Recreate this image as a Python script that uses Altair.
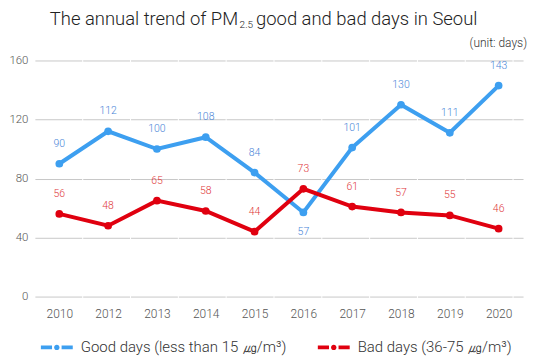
import altair as alt
import pandas as pd

years = ["2010", "2012", "2013", "2014", "2015", "2016", "2017", "2018", "2019", "2020"]
good = [90, 112, 100, 108, 84, 57, 101, 130, 111, 143]
bad = [56, 48, 65, 58, 44, 73, 61, 57, 55, 46]
series_names = ["Good days (less than 15 ㎍/m³)", "Bad days (36-75 ㎍/m³)"]
line_colors = ["#3d9ff0", "#e0000f"]
label_colors = ["#4a86d8", "#e0383a"]
title_parts = ["The annual trend of PM", "2.5", "good and bad days in Seoul"]
unit_label = "(unit: days)"

rows = []
for i, y in enumerate(years):
    rows.append({"year": y, "series": series_names[0], "days": good[i],
                 "below": good[i] < bad[i]})
    rows.append({"year": y, "series": series_names[1], "days": bad[i],
                 "below": False})
df = pd.DataFrame(rows)

FONT = "Roboto"
W, H = 490, 237

x = alt.X("year:N", sort=years, title=None,
          scale=alt.Scale(paddingInner=0, paddingOuter=0),
          axis=alt.Axis(labelAngle=0, ticks=False, domain=False, grid=False,
                        labelPadding=12, labelFontSize=12, labelColor="#555",
                        labelFont=FONT, labelFontWeight=300))
y = alt.Y("days:Q", title=None,
          scale=alt.Scale(domain=[0, 160], nice=False),
          axis=alt.Axis(values=[0, 40, 80, 120, 160], ticks=False, domain=False,
                        gridColor="#c8c8c8", gridWidth=1, labelPadding=7,
                        labelFontSize=11.5, labelColor="#555", labelFont=FONT,
                        labelFontWeight=300, gridDash=[47, 1]))

color_line = alt.Color("series:N", sort=series_names,
                       scale=alt.Scale(domain=series_names, range=line_colors),
                       legend=None)
color_pt = alt.Color("series:N", sort=series_names,
                     scale=alt.Scale(domain=series_names, range=line_colors),
                     legend=alt.Legend(
                         title=None, orient="none", direction="horizontal",
                         legendX=6, legendY=272, padding=0,
                         symbolType="M-1,-0.12H-0.3V0.12H-1Z M0.3,-0.12H1V0.12H0.3Z M-0.17,0A0.17,0.17,0,1,0,0.17,0A0.17,0.17,0,1,0,-0.17,0Z",
                         symbolSize=1024, symbolStrokeWidth=0, symbolOpacity=1,
                         labelFont=FONT, labelFontSize=15, labelFontWeight=300,
                         labelColor="#333", labelOffset=8, columnPadding=31,
                         labelLimit=400))
color_lbl = alt.Color("series:N", sort=series_names,
                      scale=alt.Scale(domain=series_names, range=label_colors),
                      legend=None)

base = alt.Chart(df)
lines = base.mark_line(strokeWidth=4).encode(x=x, y=y, color=color_line)
pts = base.mark_circle(size=60, opacity=1).encode(x=x, y=y, color=color_pt)
lbl_above = base.transform_filter("!datum.below").mark_text(
    dy=-20, font=FONT, fontSize=10.5, fontWeight=300
).encode(x=x, y=y, text="days:Q", color=color_lbl)
lbl_below = base.transform_filter("datum.below").mark_text(
    dy=20, font=FONT, fontSize=10.5, fontWeight=300
).encode(x=x, y=y, text="days:Q", color=color_lbl)

unit = alt.Chart(pd.DataFrame({"t": [unit_label]})).mark_text(
    align="right", baseline="middle", font=FONT, fontSize=12, fontWeight=300,
    color="#333"
).encode(x=alt.value(494), y=alt.value(-18), text="t:N")

title1 = alt.Chart(pd.DataFrame({"t": [title_parts[0]]})).mark_text(
    align="right", baseline="alphabetic", font=FONT, fontSize=18.5, fontWeight=300,
    color="#222"
).encode(x=alt.value(204), y=alt.value(-36), text="t:N")
title2 = alt.Chart(pd.DataFrame({"t": [title_parts[1]]})).mark_text(
    align="left", baseline="alphabetic", font=FONT, fontSize=10, fontWeight=300,
    color="#222"
).encode(x=alt.value(205.5), y=alt.value(-33), text="t:N")
title3 = alt.Chart(pd.DataFrame({"t": [title_parts[2]]})).mark_text(
    align="left", baseline="alphabetic", font=FONT, fontSize=18.5, fontWeight=300,
    color="#222"
).encode(x=alt.value(222), y=alt.value(-36), text="t:N")

chart = alt.layer(lines, pts, lbl_above, lbl_below, unit, title1, title2, title3).resolve_scale(
    color="independent"
).properties(
    width=W, height=H,
    autosize=alt.AutoSizeParams(type="none"),
    padding={"left": 27, "top": 52, "right": 10, "bottom": 64},
).configure_view(stroke=None)

chart.save("out.html", embed_options={"renderer": "svg", "actions": False})
